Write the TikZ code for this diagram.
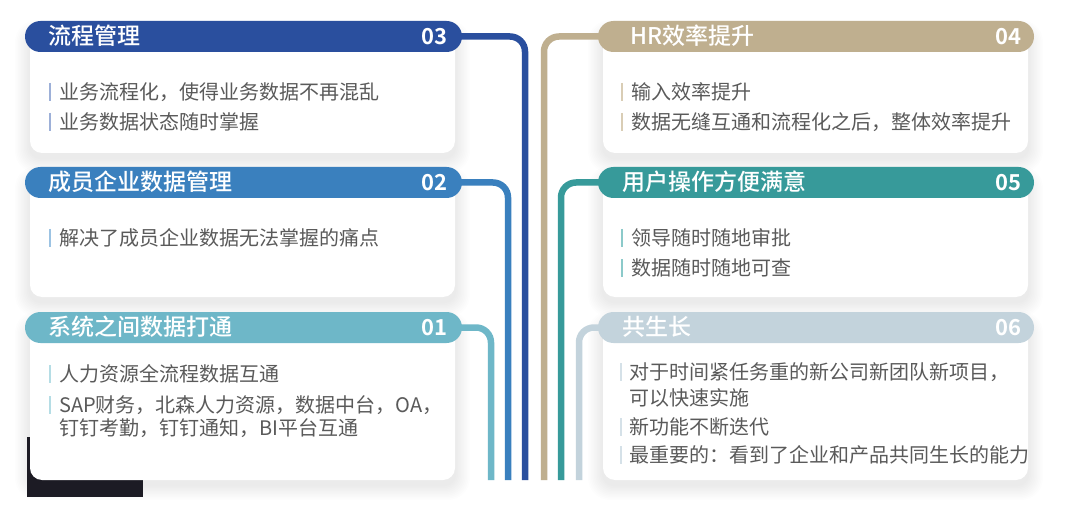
\documentclass[tikz,border=0pt]{standalone}
\usepackage{fontspec}
\setmainfont{Noto Sans CJK SC}
\newfontfamily\numfont{Noto Sans CJK SC Bold}
\newfontfamily\hdrfont{Noto Sans CJK SC Medium}
\definecolor{cA}{HTML}{2A4F9E}
\definecolor{cB}{HTML}{3A80BE}
\definecolor{cC}{HTML}{6EB7C8}
\definecolor{cD}{HTML}{BFAF8F}
\definecolor{cE}{HTML}{379A9A}
\definecolor{cF}{HTML}{C3D3DC}
\definecolor{bA}{HTML}{9DB0D8}
\definecolor{bB}{HTML}{9CC3E3}
\definecolor{bC}{HTML}{B5DDE5}
\definecolor{bD}{HTML}{D9CDB5}
\definecolor{bE}{HTML}{8CCACA}
\definecolor{bF}{HTML}{D5E1E8}
\definecolor{txt}{HTML}{5A5A5A}
\definecolor{artefact}{HTML}{1C1B24}
\newcommand\softshadow[4]{%
  \foreach \k in {1,...,10}{%
    \fill[black, opacity=0.009, rounded corners=12pt+\k pt]
      (#1-\k*1.5, #2-\k*1.5+5) rectangle (#3+\k*1.5, #4+\k*1.5+5);
  }%
}
\tikzset{
  hdr/.style={rectangle, rounded corners=15.5pt, minimum height=31pt, inner sep=0pt},
  lhdr/.style={hdr, minimum width=437pt},
  rhdr/.style={hdr, minimum width=436pt},
  cardbody/.style={rectangle, rounded corners=12pt, fill=white, inner sep=0pt},
  lbody/.style={cardbody, minimum width=425pt},
  rbody/.style={cardbody, minimum width=425pt},
  conn/.style={line width=6.5pt, rounded corners=15pt},
  htext/.style={anchor=west, text=white, font=\hdrfont\fontsize{23}{25}\selectfont, inner sep=0pt},
  hnum/.style={anchor=east, text=white, font=\numfont\fontsize{22}{24}\selectfont, inner sep=0pt},
  item/.style={anchor=west, text=txt, font=\fontsize{20}{22}\selectfont, inner sep=0pt},
  itembar/.style={line width=1.6pt}
}
\begin{document}
\begin{tikzpicture}[x=1pt,y=-1pt]
\useasboundingbox (0,0) rectangle (1080,508);
\fill[white] (0,0) rectangle (1080,508);

% soft shadows of the cards
\softshadow{30}{30}{455}{153}
\softshadow{30}{176}{455}{297}
\softshadow{30}{321}{455}{480}
\softshadow{603}{30}{1028}{153}
\softshadow{603}{176}{1028}{297}
\softshadow{603}{321}{1028}{480}

% screenshot artefact
\fill[artefact] (27,437) rectangle (143,497);

% bodies
\node[lbody, minimum height=117pt] (b03) at (242.5,94.5) {};
\node[lbody, minimum height=115pt] (b02) at (242.5,239.5) {};
\node[lbody, minimum height=153pt] (b01) at (242.5,403.5) {};
\node[rbody, minimum height=117pt] (b04) at (815.5,94.5) {};
\node[rbody, minimum height=115pt] (b05) at (815.5,239.5) {};
\node[rbody, minimum height=153pt] (b06) at (815.5,403.5) {};

% free ends of the connectors
\coordinate (e01) at (491,480);
\coordinate (e02) at (508,480);
\coordinate (e03) at (525,480);
\coordinate (e04) at (544,480);
\coordinate (e05) at (561,480);
\coordinate (e06) at (579,480);

% header positions
\path (243.5,36.5) coordinate (p03) (243.5,182.5) coordinate (p02) (243.5,327.5) coordinate (p01);
\path (816,36.5) coordinate (p04) (816,182.5) coordinate (p05) (816,327.5) coordinate (p06);

% connectors
\draw[conn, cA] (460,36.5) -| (e03);
\draw[conn, cB] (460,182.5) -| (e02);
\draw[conn, cC] (460,327.5) -| (e01);
\draw[conn, cD] (600,36.5) -| (e04);
\draw[conn, cE] (600,182.5) -| (e05);
\draw[conn, cF] (600,327.5) -| (e06);

% headers
\node[lhdr, fill=cA] (h03) at (p03) {};
\node[lhdr, fill=cB] (h02) at (p02) {};
\node[lhdr, fill=cC] (h01) at (p01) {};
\node[rhdr, fill=cD] (h04) at (p04) {};
\node[rhdr, fill=cE] (h05) at (p05) {};
\node[rhdr, fill=cF] (h06) at (p06) {};

% header texts
\node[htext] (t03) at (48,36) {流程管理};
\node[hnum] (n03) at (448,36.5) {03};
\node[htext] (t02) at (48,182) {成员企业数据管理};
\node[hnum] (n02) at (448,182.5) {02};
\node[htext] (t01) at (48,327) {系统之间数据打通};
\node[hnum] (n01) at (448,327.5) {01};
\node[htext] (t04) at (630,36) {HR效率提升};
\node[hnum] (n04) at (1022,36.5) {04};
\node[htext] (t05) at (622,182) {用户操作方便满意};
\node[hnum] (n05) at (1022,182.5) {05};
\node[htext] (t06) at (622,327) {共生长};
\node[hnum] (n06) at (1022,327.5) {06};

% items left
\draw[itembar, bA] (50,83) -- (50,101);
\node[item] (i031) at (59,92) {业务流程化，使得业务数据不再混乱};
\draw[itembar, bA] (50,113) -- (50,131);
\node[item] (i032) at (59,122) {业务数据状态随时掌握};

\draw[itembar, bB] (50,229) -- (50,247);
\node[item] (i021) at (59,238) {解决了成员企业数据无法掌握的痛点};

\draw[itembar, bC] (50,365) -- (50,383);
\node[item] (i011) at (59,374) {人力资源全流程数据互通};
\draw[itembar, bC] (50,396) -- (50,414);
\node[item] (i012) at (59,405) {SAP财务，北森人力资源，数据中台，OA，};
\node[item] (i013) at (59,428) {钉钉考勤，钉钉通知，BI平台互通};

% items right
\draw[itembar, bD] (622,83) -- (622,101);
\node[item] (i041) at (631,92) {输入效率提升};
\draw[itembar, bD] (622,113) -- (622,131);
\node[item] (i042) at (631,122) {数据无缝互通和流程化之后，整体效率提升};

\draw[itembar, bE] (622,229) -- (622,247);
\node[item] (i051) at (631,238) {领导随时随地审批};
\draw[itembar, bE] (622,259) -- (622,277);
\node[item] (i052) at (631,268) {数据随时随地可查};

\draw[itembar, bF] (621,363) -- (621,381);
\node[item] (i061) at (629,372) {对于时间紧任务重的新公司新团队新项目，};
\node[item] (i062) at (629,398) {可以快速实施};
\draw[itembar, bF] (621,418) -- (621,436);
\node[item] (i063) at (629,427) {新功能不断迭代};
\draw[itembar, bF] (621,446) -- (621,464);
\node[item] (i064) at (629,455) {最重要的：看到了企业和产品共同生长的能力};
\end{tikzpicture}
\end{document}
